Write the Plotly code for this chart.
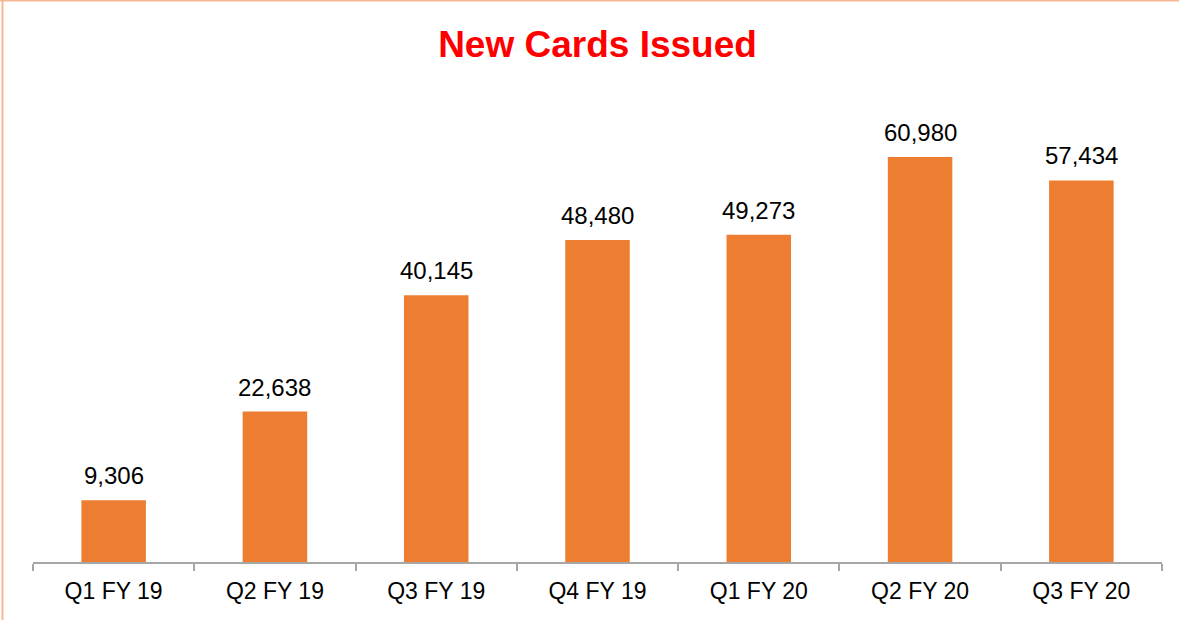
import plotly.graph_objects as go

# Quarterly card issuance
quarters = ["Q1 FY 19", "Q2 FY 19", "Q3 FY 19", "Q4 FY 19", "Q1 FY 20", "Q2 FY 20", "Q3 FY 20"]
new_cards = [9306, 22638, 40145, 48480, 49273, 60980, 57434]

BAR = "#ED7D31"
AXIS = "#A6A6A6"
FRAME = "#F8B794"
FONT = "Liberation Sans, Arial, sans-serif"

fig = go.Figure(
    go.Bar(
        x=quarters,
        y=new_cards,
        marker=dict(color=BAR, line=dict(width=0)),
        width=0.4,
        hoverinfo="x+y",
    )
)

# value labels above each bar
for q, v in zip(quarters, new_cards):
    fig.add_annotation(
        x=q, y=v, text=f"{v:,}", showarrow=False,
        yanchor="bottom", yshift=9,
        font=dict(family=FONT, size=24, color="#000000"),
    )

fig.update_layout(
    width=1179,
    height=620,
    margin=dict(l=33, r=17, t=97, b=58),
    paper_bgcolor="white",
    plot_bgcolor="white",
    showlegend=False,
    title=dict(
        text="<b>New Cards Issued</b>",
        x=0.5, xref="paper", xanchor="center",
        y=1 - 44 / 620, yref="container", yanchor="middle",
        font=dict(family=FONT, size=37, color="#FF0000"),
    ),
    xaxis=dict(
        showline=True, linecolor=AXIS, linewidth=1.5,
        ticks="outside", tickson="boundaries", ticklen=7, tickcolor=AXIS, tickwidth=1.5,
        showgrid=False, zeroline=False,
        tickfont=dict(family=FONT, size=23, color="#000000"),
        ticklabelstandoff=8,
    ),
    yaxis=dict(
        range=[0, 70000], visible=False, showgrid=False, zeroline=False,
    ),
    shapes=[
        # thin frame along the top and left edges of the slide
        dict(type="line", xref="paper", yref="paper",
             x0=-33 / 1129, x1=1 + 17 / 1129, y0=1 + 96.5 / 465, y1=1 + 96.5 / 465,
             line=dict(color=FRAME, width=2)),
        dict(type="line", xref="paper", yref="paper",
             x0=-30.5 / 1129, x1=-30.5 / 1129, y0=-58 / 465, y1=1 + 97 / 465,
             line=dict(color=FRAME, width=2)),
    ],
)

fig.write_html("out.html")
